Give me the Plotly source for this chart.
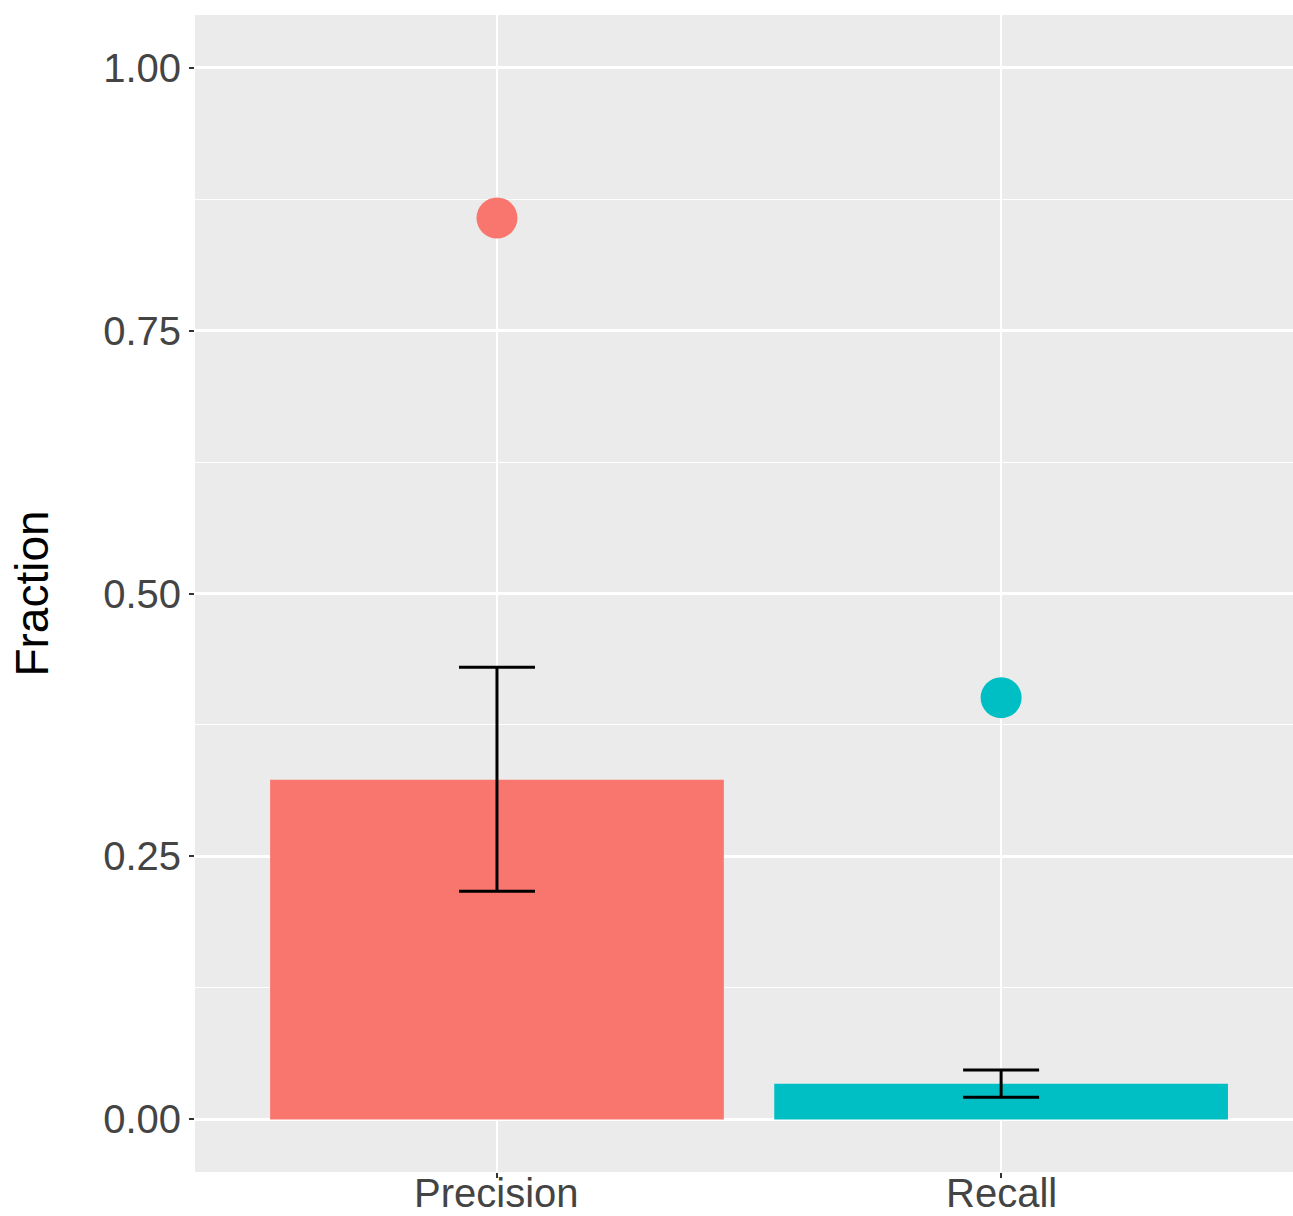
import plotly.graph_objects as go

# Metrics and their summary values
metrics = ["Precision", "Recall"]
bar_values = [0.323, 0.034]
err_upper = [0.430, 0.047]
err_lower = [0.217, 0.021]
point_values = [0.857, 0.401]
colors = ["#F8766D", "#00BFC4"]

y_ticks = [0.0, 0.25, 0.5, 0.75, 1.0]
y_tick_text = ["0.00", "0.25", "0.50", "0.75", "1.00"]

err_plus = [u - v for u, v in zip(err_upper, bar_values)]
err_minus = [v - l for v, l in zip(bar_values, err_lower)]

fig = go.Figure()

fig.add_trace(go.Bar(
    x=metrics,
    y=bar_values,
    width=0.9,
    marker=dict(color=colors, line=dict(width=0)),
    error_y=dict(
        type="data",
        symmetric=False,
        array=err_plus,
        arrayminus=err_minus,
        color="black",
        thickness=3,
        width=38,
    ),
    showlegend=False,
    hoverinfo="skip",
))

fig.add_trace(go.Scatter(
    x=metrics,
    y=point_values,
    mode="markers",
    marker=dict(color=colors, size=41, line=dict(width=0)),
    showlegend=False,
    hoverinfo="skip",
))

font_family = "Liberation Sans, Arial, Helvetica, sans-serif"
tick_color = "#444444"

# Category labels sit tight under the panel, so they are placed as annotations
for m in metrics:
    fig.add_annotation(
        x=m, xref="x", y=0, yref="paper",
        text=m, showarrow=False,
        xanchor="center", yanchor="top",
        yshift=0, height=40, valign="middle", borderpad=0,
        font=dict(size=40, color=tick_color, family=font_family),
    )

fig.update_layout(
    width=1293,
    height=1216,
    margin=dict(l=195, r=0, t=15, b=44),
    paper_bgcolor="white",
    plot_bgcolor="#EBEBEB",
    font=dict(family=font_family, color="#4D4D4D"),
    bargap=0.1,
)

fig.update_xaxes(
    type="category",
    range=[-0.599, 1.579],
    automargin=False,
    showgrid=True,
    gridcolor="white",
    gridwidth=2,
    ticks="outside",
    ticklen=5,
    tickwidth=2,
    tickcolor="#333333",
    showticklabels=False,
    showline=False,
    zeroline=False,
)

fig.update_yaxes(
    range=[-0.05, 1.05],
    automargin=False,
    tickvals=y_ticks,
    ticktext=y_tick_text,
    showgrid=True,
    gridcolor="white",
    gridwidth=2.5,
    minor=dict(
        tickvals=[0.125, 0.375, 0.625, 0.875],
        showgrid=True,
        gridcolor="white",
        gridwidth=1.2,
        ticks="",
    ),
    ticks="outside",
    ticklen=5,
    tickwidth=2,
    tickcolor="#333333",
    tickfont=dict(size=40, color=tick_color),
    title=dict(text="Fraction", font=dict(size=46, color="black"), standoff=40),
    showline=False,
    zeroline=False,
)

fig.write_html("out.html")
